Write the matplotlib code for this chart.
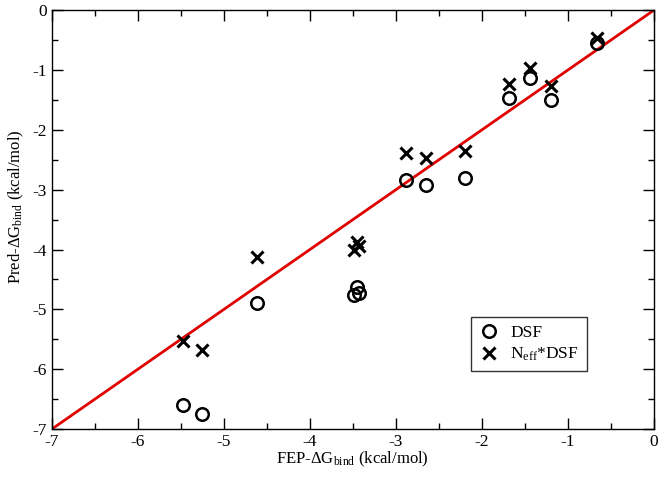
import matplotlib
matplotlib.use("Agg")
import matplotlib.pyplot as plt
from matplotlib.ticker import MultipleLocator

plt.rcParams["font.family"] = ["Liberation Serif", "DejaVu Serif"]
plt.rcParams["mathtext.fontset"] = "custom"
plt.rcParams["mathtext.rm"] = "Liberation Serif"
plt.rcParams["mathtext.it"] = "Liberation Serif:italic"
plt.rcParams["axes.unicode_minus"] = False

# FEP reference values (x) and predictions (y)
fep = [-5.47, -5.25, -4.61, -3.49, -3.45, -3.43, -2.88, -2.65, -2.20,
       -1.69, -1.44, -1.20, -0.66]
dsf = [-6.59, -6.74, -4.90, -4.76, -4.62, -4.72, -2.84, -2.93, -2.81,
       -1.47, -1.14, -1.50, -0.55]
neff_dsf = [-5.53, -5.67, -4.12, -4.00, -3.88, -3.94, -2.38, -2.47, -2.36,
            -1.24, -0.96, -1.26, -0.46]
diag = [-7, 0]

fig = plt.figure(figsize=(6.64, 4.8), dpi=100)
ax = fig.add_axes([0.078, 0.106, 0.907, 0.873])

ax.plot(diag, diag, color="#e00000", lw=2.0, zorder=1)
ax.plot(fep, dsf, ls="none", marker="o", ms=9, mfc="none", mec="black",
        mew=1.8, label="DSF", zorder=2)
ax.plot(fep, neff_dsf, ls="none", marker="x", ms=8, mec="black",
        mew=2.2, label=r"N$_{\rm eff}$*DSF", zorder=3)

ax.set_xlim(-7, 0)
ax.set_ylim(-7, 0)
ax.xaxis.set_major_locator(MultipleLocator(1))
ax.yaxis.set_major_locator(MultipleLocator(1))
ax.xaxis.set_minor_locator(MultipleLocator(0.5))
ax.yaxis.set_minor_locator(MultipleLocator(0.5))
ax.tick_params(which="both", direction="in", top=True, right=True, labelsize=12.5)
ax.tick_params(which="major", length=8, width=1)
ax.tick_params(which="minor", length=4, width=1)
for s in ax.spines.values():
    s.set_linewidth(1.0)

ax.set_xlabel(r"FEP-$\Delta$G$_{\rm bind}$ (kcal/mol)", fontsize=12, labelpad=0)
ax.set_ylabel(r"Pred-$\Delta$G$_{\rm bind}$ (kcal/mol)", fontsize=12)
ax.yaxis.set_label_coords(-0.042, 0.53)

leg = ax.legend(loc="lower left", bbox_to_anchor=(0.682, 0.118), fontsize=12.5,
                frameon=True, fancybox=False, edgecolor="black",
                handletextpad=0.6, borderpad=0.45, labelspacing=0.25,
                handlelength=1.2)
leg.get_frame().set_linewidth(1.0)

fig.savefig("out.png", dpi=100)
